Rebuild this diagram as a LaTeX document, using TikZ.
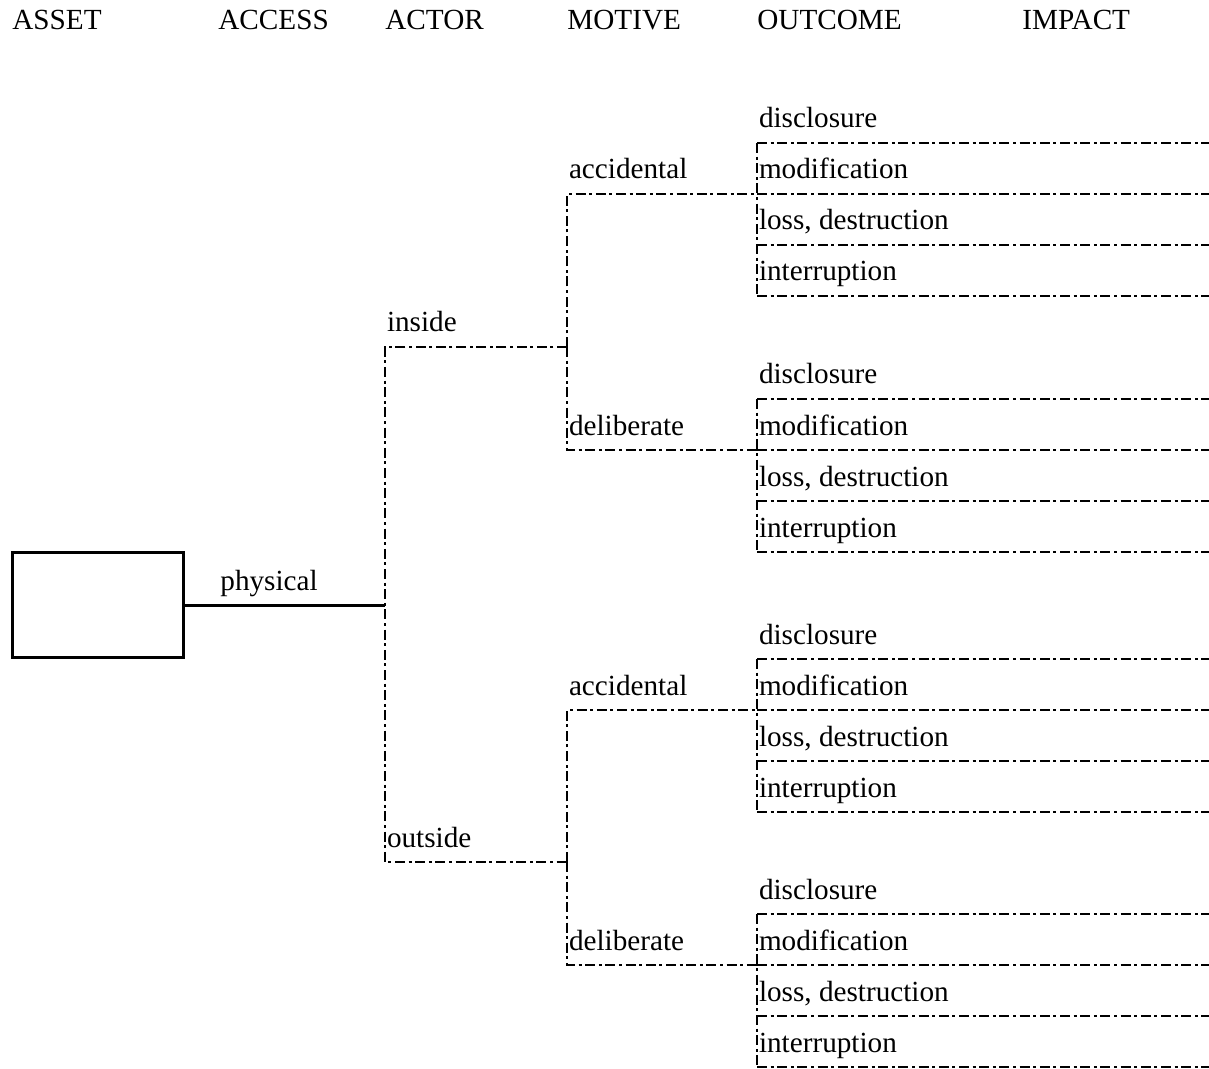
\documentclass[tikz,border=0pt]{standalone}
\usepackage{fontspec}
\setmainfont{Liberation Serif}
\usetikzlibrary{positioning}

\begin{document}
\begin{tikzpicture}[x=0.5pt,y=-0.5pt,
  txt/.style={anchor=base west,inner sep=0pt,font=\fontsize{14.6}{17}\selectfont},
  lbl/.style={txt,xshift=0.8pt,yshift=7.5pt},
  br/.style={line width=1.2pt,dash pattern=on 5pt off 1.8pt on 1.5pt off 1.8pt},
  assetbox/.style={draw,line width=1.5pt,minimum width=85.5pt,minimum height=52.5pt,inner sep=0pt}]
  \useasboundingbox (0,0) rectangle (1209,1069);
  % column heads
  \node[txt] (hasset)  at (12,30)   {ASSET};
  \node[txt] (haccess) at (218,30)  {ACCESS};
  \node[txt] (hactor)  at (385,30)  {ACTOR};
  \node[txt] (hmotive) at (567,30)  {MOTIVE};
  \node[txt] (hout)    at (757,30)  {OUTCOME};
  \node[txt] (himpact) at (1022,30) {IMPACT};
  % asset and access
  \node[assetbox] (asset) at (97.5,605) {};
  \coordinate (acc) at (385,605);
  \node[txt,yshift=7.5pt] (phys) at (220,605) {physical};
  \draw[line width=1.5pt] (asset.east) -- (acc);
  % actor
  \coordinate (in)  at (385,347);
  \coordinate (out) at (385,862);
  \coordinate (inm)  at (567,347);
  \coordinate (outm) at (567,862);
  \node[lbl] (inside)  at (in)  {inside};
  \node[lbl] (outside) at (out) {outside};
  \draw[br] (inm) -- (in) -- (out) -- (outm);
  % motive
  \foreach \a/\m/\y in {in/ia/194,in/id/450,out/oa/710,out/od/965}{
    \coordinate (\m) at (567,\y);
    \coordinate (\m-o) at (757,\y);
    \draw[br] (\a m) -- (\m) -- (\m-o);
  }
  \node[lbl] (ia-lbl) at (ia) {accidental};
  \node[lbl] (id-lbl) at (id) {deliberate};
  \node[lbl] (oa-lbl) at (oa) {accidental};
  \node[lbl] (od-lbl) at (od) {deliberate};
  % outcome and impact
  \foreach \g/\y in {ia/194,id/450,oa/710,od/965}{
    \coordinate (\g-top) at (757,\y-51);
    \coordinate (\g-bot) at (757,\y+102);
    \draw[br] (\g-top) -- (\g-bot);
    \foreach \o/\t [count=\i from 0] in {disc/disclosure,mod/modification,loss/{loss, destruction},intr/interruption}{
      \coordinate (\g-\o-l) at (757,{\y+51*(\i-1)});
      \coordinate (\g-\o-r) at (1209,{\y+51*(\i-1)});
      \node[lbl] (\g-\o) at (\g-\o-l) {\t};
      \draw[br] (\g-\o-l) -- (\g-\o-r);
    }
  }
\end{tikzpicture}
\end{document}
